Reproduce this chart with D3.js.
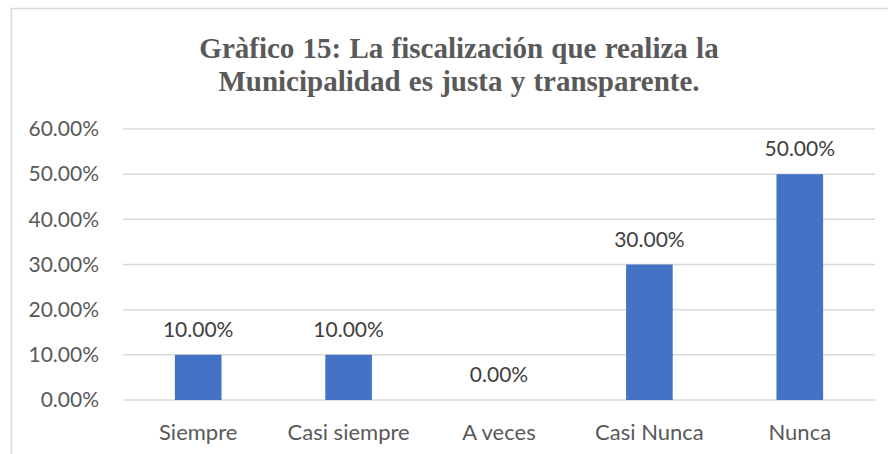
<!DOCTYPE html>
<html lang="es">
  <head>
    <meta charset="utf-8" />
    <title>Gráfico 15</title>
    <script src="https://d3js.org/d3.v7.min.js"></script>
    <style>
      body { margin: 0; background: #fff; }
      svg { display: block; }
    </style>
  </head>
  <body>
    <div id="chart"></div>
    <script>
      const categories = ["Siempre", "Casi siempre", "A veces", "Casi Nunca", "Nunca"];
      const values = [0.10, 0.10, 0.00, 0.30, 0.50];
      const yTicks = [0, 0.1, 0.2, 0.3, 0.4, 0.5, 0.6];
      const titleLines = [
        "Gràfico 15: La fiscalización que realiza la",
        "Municipalidad es justa y transparente."
      ];

      const W = 888, H = 454;
      const margin = { left: 123, right: 13, top: 129, bottom: 54 };
      const fmt = d3.format(".2%");

      const svg = d3.select("#chart").append("svg")
        .attr("width", W).attr("height", H);

      // chart frame
      svg.append("rect")
        .attr("x", 11.5).attr("y", 8.5)
        .attr("width", 900).attr("height", 500)
        .attr("fill", "#fff").attr("stroke", "#d9d9d9").attr("stroke-width", 1.5);

      // title
      svg.append("text")
        .attr("text-anchor", "middle")
        .attr("font-family", "'Liberation Serif', 'Times New Roman', serif")
        .attr("font-weight", "bold")
        .attr("font-size", 29)
        .attr("word-spacing", 1)
        .attr("fill", "#595959")
        .selectAll("tspan")
        .data(titleLines)
        .join("tspan")
        .attr("x", 459)
        .attr("y", (d, i) => 58 + i * 33)
        .text(d => d);

      const x = d3.scaleBand()
        .domain(categories)
        .range([margin.left, W - margin.right])
        .paddingInner(0.69)
        .paddingOuter(0.345);

      const y = d3.scaleLinear()
        .domain([0, 0.6])
        .range([H - margin.bottom, margin.top]);

      // gridlines
      svg.append("g")
        .selectAll("line")
        .data(yTicks)
        .join("line")
        .attr("x1", margin.left).attr("x2", W - margin.right)
        .attr("y1", d => y(d)).attr("y2", d => y(d))
        .attr("stroke", "#d9d9d9").attr("stroke-width", 1.5);

      // y axis labels
      const yAxis = d3.axisLeft(y).tickValues(yTicks).tickFormat(fmt).tickSize(0).tickPadding(24);
      const gy = svg.append("g")
        .attr("transform", `translate(${margin.left},0)`)
        .call(yAxis);
      gy.select(".domain").remove();
      gy.selectAll("text")
        .attr("font-family", "Lato, 'Open Sans', sans-serif")
        .attr("font-size", 21)
        .attr("fill", "#595959");

      // x axis labels
      const xAxis = d3.axisBottom(x).tickSize(0).tickPadding(24);
      const gx = svg.append("g")
        .attr("transform", `translate(0,${H - margin.bottom})`)
        .call(xAxis);
      gx.select(".domain").remove();
      gx.selectAll("text")
        .attr("font-family", "Lato, 'Open Sans', sans-serif")
        .attr("font-size", 22)
        .attr("fill", "#595959");

      // bars
      svg.append("g")
        .selectAll("rect")
        .data(values)
        .join("rect")
        .attr("x", (d, i) => x(categories[i]))
        .attr("width", x.bandwidth())
        .attr("y", d => y(d))
        .attr("height", d => y(0) - y(d))
        .attr("fill", "#4472c4");

      // data labels
      svg.append("g")
        .selectAll("text")
        .data(values)
        .join("text")
        .attr("x", (d, i) => x(categories[i]) + x.bandwidth() / 2)
        .attr("y", d => y(d) - 18)
        .attr("text-anchor", "middle")
        .attr("font-family", "Lato, 'Open Sans', sans-serif")
        .attr("font-size", 21)
        .attr("fill", "#404040")
        .text(d => fmt(d));
    </script>
  </body>
</html>
